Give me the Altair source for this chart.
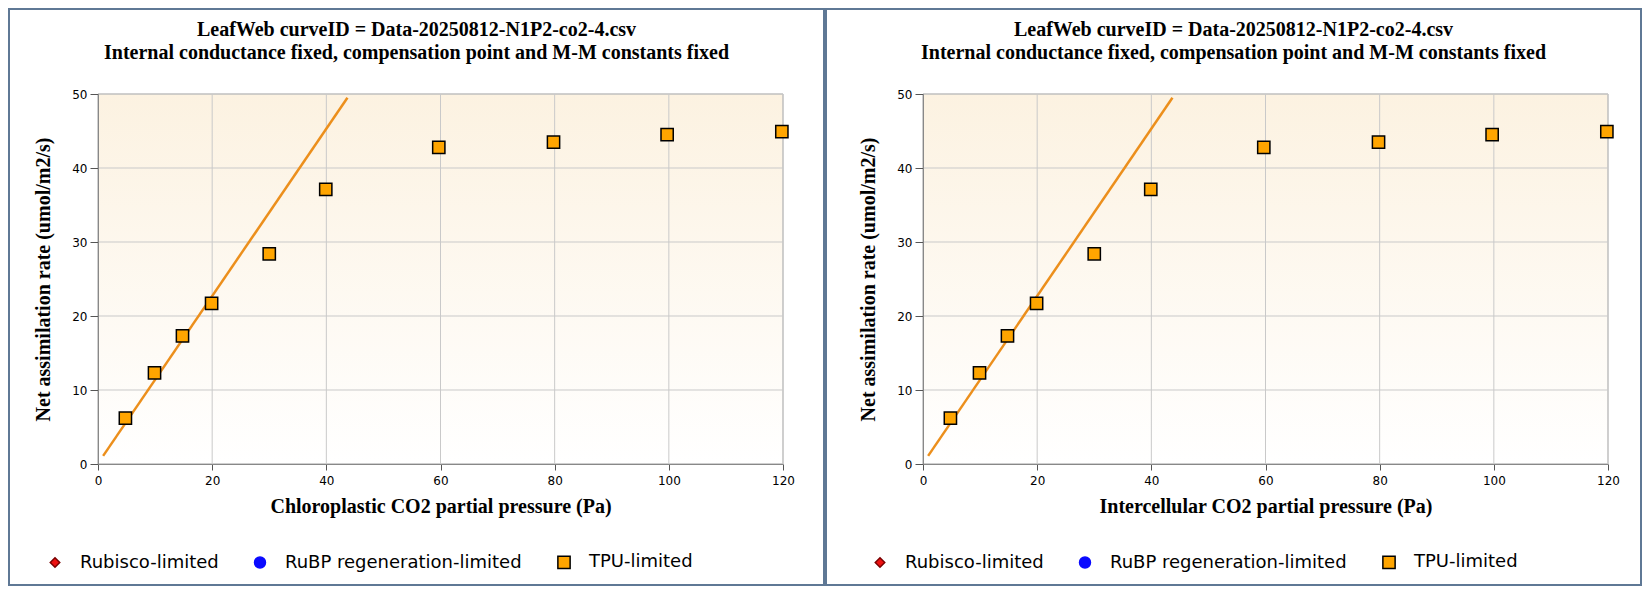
import altair as alt
import pandas as pd

# ---------------- text ----------------
title_lines = [
    "LeafWeb curveID = Data-20250812-N1P2-co2-4.csv",
    "Internal conductance fixed, compensation point and M-M constants fixed",
]
x_titles = [
    "Chloroplastic CO2 partial pressure (Pa)",
    "Intercellular CO2 partial pressure (Pa)",
]
y_title = "Net assimilation rate (umol/m2/s)"

# ---------------- legend categories ----------------
categories = ["Rubisco-limited", "RuBP regeneration-limited", "TPU-limited"]
cat_fill = ["#ee1111", "#0a0aff", "#ffa500"]
cat_stroke = ["#7a0000", "#0a0aff", "#000000"]
cat_shape = ["diamond", "circle", "square"]
cat_size = [90, 150, 170]

# ---------------- observed points ----------------
co2 = [4.8, 9.9, 14.8, 19.9, 30.0, 39.9, 59.7, 79.8, 99.7, 119.8]
assim = [6.2, 12.3, 17.3, 21.7, 28.4, 37.1, 42.8, 43.5, 44.5, 44.9]
limitation = ["TPU-limited"] * 10

# ---------------- fitted line ----------------
fit_co2 = [0.9, 43.7]
fit_assim = [1.1, 49.5]

# ---------------- axes ----------------
x_ticks = [0, 20, 40, 60, 80, 100, 120]
y_ticks = [0, 10, 20, 30, 40, 50]
x_domain = [0, 120]
y_domain = [0, 50]

W, H = 685, 370
BORDER = "#5f7895"

pts_df = pd.DataFrame({"co2": co2, "A": assim, "lim": limitation})
fit_df = pd.DataFrame({"co2": fit_co2, "A": fit_assim})
frame_df = pd.DataFrame({"co2": [x_domain[0]], "co2b": [x_domain[1]],
                         "A": [y_domain[0]], "Ab": [y_domain[1]]})
vgrid_df = pd.DataFrame({"co2": x_ticks, "A": [y_domain[0]] * len(x_ticks),
                         "Ab": [y_domain[1]] * len(x_ticks)})
hgrid_df = pd.DataFrame({"A": y_ticks, "co2": [x_domain[0]] * len(y_ticks),
                         "co2b": [x_domain[1]] * len(y_ticks)})
one_df = pd.DataFrame({"k": [0]})

gradient = alt.LinearGradient(
    gradient="linear",
    stops=[alt.GradientStop(color="#fcf2e1", offset=0),
           alt.GradientStop(color="#ffffff", offset=1)],
    x1=0, x2=0, y1=0, y2=1,
)


def panel(x_title, left, right, top, bottom):
    xs = alt.Scale(domain=x_domain, nice=False, zero=False)
    ys = alt.Scale(domain=y_domain, nice=False, zero=False)
    xaxis = alt.Axis(values=x_ticks, title=x_title, grid=False, zindex=1,
                     labelFlush=False, labelFont="DejaVu Sans", labelFontSize=12,
                     labelColor="black", labelPadding=5, tickSize=6,
                     tickColor="#555555", domainColor="#888888",
                     titleFont="Liberation Serif", titleFontSize=20,
                     titleFontWeight="bold", titleColor="black", titlePadding=10)
    yaxis = alt.Axis(values=y_ticks, title=y_title, grid=False, zindex=1,
                     labelFlush=False, labelFont="DejaVu Sans", labelFontSize=12,
                     labelColor="black", labelPadding=3, tickSize=8,
                     tickColor="#555555", domainColor="#888888",
                     titleFont="Liberation Serif", titleFontSize=20,
                     titleFontWeight="bold", titleColor="black", titlePadding=18)
    X = lambda f: alt.X(f, type="quantitative", scale=xs, axis=xaxis)
    Y = lambda f: alt.Y(f, type="quantitative", scale=ys, axis=yaxis)

    bg = alt.Chart(frame_df).mark_rect(color=gradient, stroke="#aaaaaa", strokeWidth=1).encode(
        x=X("co2"), x2="co2b", y=Y("A"), y2="Ab")
    vgrid = alt.Chart(vgrid_df).mark_rule(color="#c9c9c9", strokeWidth=1).encode(
        x=X("co2"), y=Y("A"), y2="Ab")
    hgrid = alt.Chart(hgrid_df).mark_rule(color="#c9c9c9", strokeWidth=1).encode(
        y=Y("A"), x=X("co2"), x2="co2b")
    line = alt.Chart(fit_df).mark_line(color="#ec8f1c", strokeWidth=2.5).encode(
        x=X("co2"), y=Y("A"))
    pts = alt.Chart(pts_df).mark_point(filled=True, opacity=1, strokeWidth=1.5).encode(
        x=X("co2"), y=Y("A"),
        color=alt.Color("lim:N", scale=alt.Scale(domain=categories, range=cat_fill),
                        legend=alt.Legend(title=None)),
        stroke=alt.Stroke("lim:N", scale=alt.Scale(domain=categories, range=cat_stroke),
                          legend=alt.Legend(title=None)),
        shape=alt.Shape("lim:N", scale=alt.Scale(domain=categories, range=cat_shape),
                        legend=alt.Legend(title=None)),
        size=alt.Size("lim:N", scale=alt.Scale(domain=categories, range=cat_size),
                      legend=alt.Legend(title=None)),
    )
    border = alt.Chart(one_df).mark_rect(fillOpacity=0, stroke=BORDER, strokeWidth=2).encode(
        x=alt.value(left), x2=alt.value(right), y=alt.value(top), y2=alt.value(bottom))

    return alt.layer(bg, vgrid, hgrid, line, pts, border).properties(
        width=W, height=H,
        title=alt.TitleParams(text=title_lines, anchor="middle", frame="bounds",
                              font="Liberation Serif", fontSize=20, fontWeight="bold",
                              color="black", lineHeight=23, offset=-55),
    )


left_panel = panel(x_titles[0], -89, 726, -85, 491)
right_panel = panel(x_titles[1], -97, 718, -85, 491)

chart = alt.hconcat(left_panel, right_panel, spacing=0).properties(padding=0).resolve_scale(
    color="independent", stroke="independent", shape="independent", size="independent"
).resolve_legend(
    color="independent", stroke="independent", shape="independent", size="independent"
).configure(
    background="white"
).configure_view(stroke=None).configure_legend(
    orient="none", legendX=-52, legendY=459, direction="horizontal",
    labelFont="DejaVu Sans", labelFontSize=18, labelColor="black", labelLimit=0,
    labelOffset=16, columnPadding=32, symbolStrokeWidth=1.5, padding=0,
)

chart.save("out.html", embed_options={"renderer": "svg", "actions": False})
